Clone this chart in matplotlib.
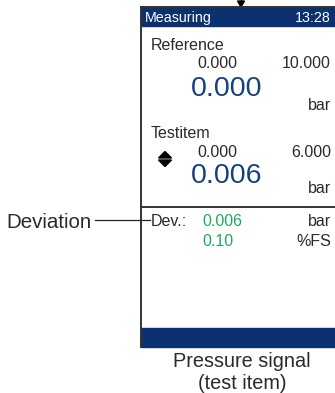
import matplotlib.pyplot as plt
from matplotlib.patches import Rectangle, Polygon

plt.rcParams['font.family'] = ['Liberation Sans', 'DejaVu Sans']

# screen content
header_title = "Measuring"
header_time = "13:28"
section_names = ["Reference", "Testitem"]
range_low = ["0.000", "0.000"]
range_high = ["10.000", "6.000"]
big_values = ["0.000", "0.006"]
units = ["bar", "bar"]
dev_label = "Dev.:"
dev_values = ["0.006", "0.10"]
dev_units = ["bar", "%FS"]
callout_left = "Deviation"
callout_bottom = ["Pressure signal", "(test item)"]

NAVY = "#0b3170"
BLUE = "#173f80"
GREEN = "#1eaa5c"
TEXT = "#2a2a2a"
W, H = 335, 393

fig = plt.figure(figsize=(W / 100, H / 100), dpi=100)
ax = fig.add_axes([0, 0, 1, 1])
ax.set_xlim(0, W)
ax.set_ylim(H, 0)
ax.axis("off")

left = 141
# header and footer bars
ax.add_patch(Rectangle((left, 7), W - left, 19, color=NAVY, zorder=2))
ax.add_patch(Rectangle((left, 328), W - left, 19, color=NAVY, zorder=2))
# frame
ax.plot([left, left], [7, 347], color="#333333", lw=1.4, zorder=3)
ax.plot([left, W], [7, 7], color="#333333", lw=1.4, zorder=3)
ax.plot([left, W], [207, 207], color="#333333", lw=1.4, zorder=3)

# arrow at top
ax.plot([241, 241], [0, 3], color="black", lw=1)
ax.add_patch(Polygon([[237.5, 1], [244.5, 1], [241, 7]], closed=True, color="black"))

ax.text(145, 22, header_title, color="white", fontsize=10.3, va="baseline")
ax.text(331, 22, header_time, color="white", fontsize=10.3, va="baseline", ha="right")

rows = [(50, 68, 96, 110), (138, 157, 183, 193)]
for i, (y_name, y_rng, y_big, y_unit) in enumerate(rows):
    ax.text(151, y_name, section_names[i], color=TEXT, fontsize=11.5, va="baseline")
    ax.text(217, y_rng, range_low[i], color=TEXT, fontsize=11.5, va="baseline", ha="center")
    ax.text(331, y_rng, range_high[i], color=TEXT, fontsize=11.5, va="baseline", ha="right")
    ax.text(227, y_big, big_values[i], color=BLUE, fontsize=20.5, va="baseline", ha="center")
    ax.text(331, y_unit, units[i], color=TEXT, fontsize=11.5, va="baseline", ha="right")

# up/down icon
ax.add_patch(Polygon([[158.5, 158], [171.5, 158], [165, 151.5]], closed=True, color="black"))
ax.add_patch(Polygon([[158.5, 160], [171.5, 160], [165, 166.5]], closed=True, color="black"))

# deviation block
ax.text(151, 226, dev_label, color=TEXT, fontsize=11.5, va="baseline")
for y, x, val, unit in zip([226, 246], [222, 218], dev_values, dev_units):
    ax.text(x, y, val, color=GREEN, fontsize=11.5, va="baseline", ha="center")
    ax.text(331, y, unit, color=TEXT, fontsize=11.5, va="baseline", ha="right")

# callouts
ax.text(92, 228, callout_left, color=TEXT, fontsize=14.8, va="baseline", ha="right")
ax.plot([95, 150], [220, 220], color="#222222", lw=0.9)
for y, line in zip([367, 389], callout_bottom):
    ax.text(242, y, line, color=TEXT, fontsize=14.3, va="baseline", ha="center")

fig.savefig("out.png", dpi=100)
